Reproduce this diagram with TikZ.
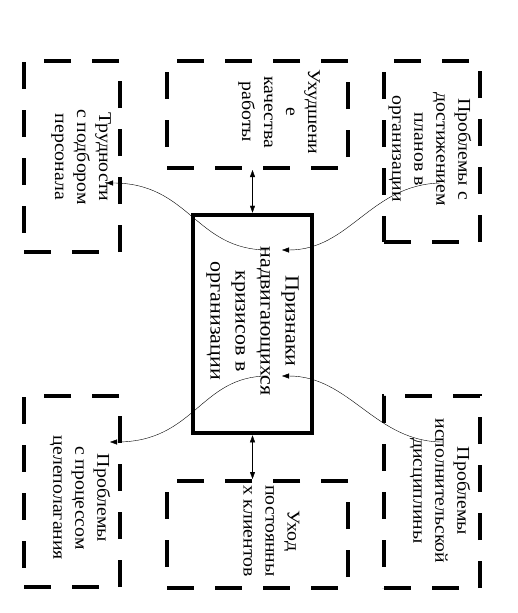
\documentclass[tikz,border=0pt]{standalone}
\usepackage{fontspec}
\setmainfont{Liberation Serif}
\usetikzlibrary{arrows.meta}

\begin{document}
\begin{tikzpicture}[%
        x=1pt, y=-1pt,
        factor/.style={
            % dashed frame:
            draw,
            line width=4pt,
            dash pattern=on 27pt off 21pt,
            inner sep=0pt,
        },
        sign/.style={
            draw,
            line width=4.5pt,
            minimum width=119pt,
            minimum height=218pt,
            inner sep=0pt,
        },
        caption/.style={
            yscale=1.1,
            rotate=-90,
            align=center,
            inner sep=0pt,
            font=\fontsize{18}{22}\selectfont,
        },
        bigcaption/.style={
            caption,
            font=\fontsize{20}{25}\selectfont,
        },
        >={Triangle[length=7pt,width=5pt]}, thin
    ]

    \useasboundingbox (0,0) rectangle (517,613);

    % frames
    \node[sign] (krizis) at (252.5,324) {};
    \node[factor, minimum width=96pt, minimum height=191pt] (trud) at (72,156.5) {};
    \node[factor, minimum width=181pt, minimum height=107pt] (kach) at (257.5,114.5) {};
    \node[factor, minimum width=96pt, minimum height=181pt] (plan) at (432,151.5) {};
    \node[factor, minimum width=96pt, minimum height=191pt] (tsel) at (72,491.5) {};
    \node[factor, minimum width=181pt, minimum height=107pt] (klient) at (257.5,534.5) {};
    \node[factor, minimum width=96pt, minimum height=192pt] (disc) at (432,492) {};

    % texts
    \node[bigcaption] (krizis-t) at (252.5,321) {Признаки\\надвигающихся\\кризисов в\\организации};
    \node[caption] (trud-t) at (81,157) {Трудности\\с подбором\\персонала};
    \node[caption] (kach-t) at (279,112) {Ухудшени\\е\\качества\\работы};
    \node[caption] (plan-t) at (430,149) {Проблемы с\\достижением\\планов в\\организации};
    \node[caption] (tsel-t) at (80,498) {Проблемы\\с процессом\\целеполагания};
    \node[caption] (klient-t) at (271.5,531) {Уход\\постоянны\\х клиентов};
    \node[caption] (disc-t) at (440,491) {Проблемы\\исполнительской\\дисциплины};

    % curve ends
    \coordinate (inA) at (268,250);
    \coordinate (inB) at (282,250);
    \coordinate (inC) at (268,376);
    \coordinate (inD) at (282,376);
    \coordinate (trudIn) at (106,183);
    \coordinate (planIn) at (440,183);
    \coordinate (tselIn) at (110,442);
    \coordinate (discIn) at (443,442);

    \draw[<->] (krizis.north |- kach.south) -- (krizis.north);
    \draw[<->] (krizis.south) -- (krizis.south |- klient.north);

    \draw[->] (inA) .. controls (195,250) and (190,183) .. (trudIn);
    \draw[->] (planIn) .. controls (370,185) and (350,250) .. (inB);
    \draw[->] (inC) .. controls (200,376) and (195,442) .. (tselIn);
    \draw[->] (discIn) .. controls (375,442) and (350,376) .. (inD);

\end{tikzpicture}
\end{document}
